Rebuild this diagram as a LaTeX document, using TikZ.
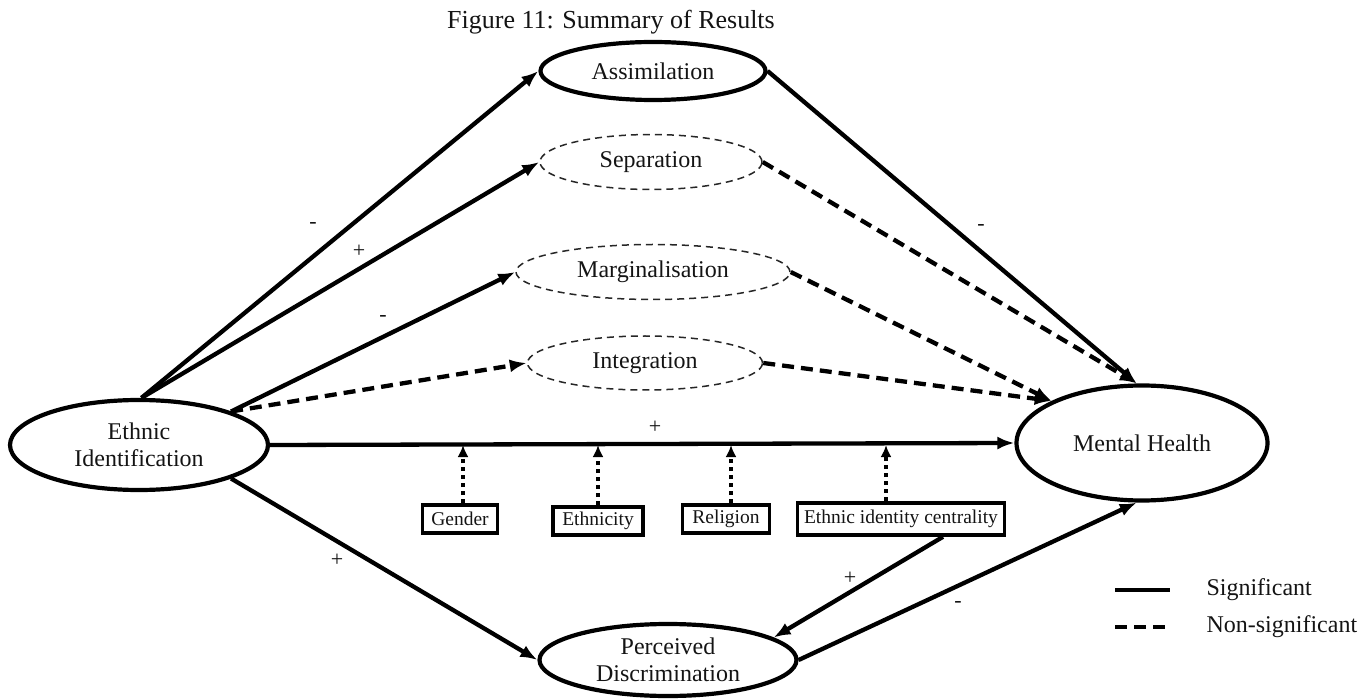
\documentclass[tikz,border=0pt]{standalone}
\usepackage{fontspec}
\setmainfont{Liberation Serif}
\usetikzlibrary{arrows.meta,shapes.geometric}

\begin{document}
\begin{tikzpicture}[x=1pt,y=-1pt,
  every node/.style={font=\fontsize{24}{27}\selectfont, text=black!92},
  construct/.style={ellipse, draw=black, line width=4.2pt, inner sep=0pt, align=center},
  strategy/.style={ellipse, draw=black!85, line width=1.5pt, dash pattern=on 7pt off 5pt, inner sep=0pt},
  moderator/.style={draw=black, line width=3.6pt, inner sep=3pt, minimum height=28pt,
    font=\fontsize{19.5}{22}\selectfont},
  sig/.style={line width=4.3pt, -{Latex[length=17pt,width=13pt]}},
  nonsig/.style={line width=4.3pt, dash pattern=on 12pt off 7pt, -{Latex[length=17pt,width=13pt]}},
  modarrow/.style={line width=4pt, dash pattern=on 4pt off 4pt, -{Latex[length=12pt,width=11pt]}},
  sign/.style={font=\fontsize{22}{24}\selectfont, inner sep=0pt},
]
\useasboundingbox (0,0) rectangle (1368,700);

% caption
\node (title) at (611,22) {\fontsize{26}{28}\selectfont Figure 11: Summary of Results};

% constructs
\node[construct, minimum width=258pt, minimum height=90pt] (ei) at (139,445) {Ethnic\\Identification};
\node[construct, minimum width=251pt, minimum height=115pt] (mh) at (1142,443) {Mental Health};
\node[construct, minimum width=257pt, minimum height=72pt] (pd) at (668,660) {Perceived\\Discrimination};
\node[construct, minimum width=225pt, minimum height=58pt] (ass) at (653,71) {Assimilation};

% acculturation strategies (non-significant)
\node[strategy, minimum width=222pt, minimum height=55pt] (sep) at (651,162) {Separation};
\node[strategy, minimum width=274pt, minimum height=55pt] (mar) at (653,272) {Marginalisation};
\node[strategy, minimum width=235pt, minimum height=54pt] (int) at (645,363) {Integration};

% moderators
\node[moderator, minimum width=75pt] (gen) at (460,519) {Gender};
\node[moderator, minimum width=90pt] (eth) at (598,521) {Ethnicity};
\node[moderator, minimum width=87pt] (rel) at (726,519) {Religion};
\node[moderator, minimum width=207pt, minimum height=32pt] (eic) at (901,519) {Ethnic identity centrality};

% paths from ethnic identification
\draw[sig] (ei.87) -- (ass.west);
\draw[sig] (ei.87) -- (sep.west);
\draw[sig] (ei.20) -- (mar.west);
\draw[nonsig] (ei.20) -- (int.west);
\draw[sig] (ei.east) -- (mh.west);
\draw[sig] (ei.-20) -- (pd.west);

% paths into mental health
\draw[sig] (ass.east) -- (mh.95);
\draw[nonsig] (sep.east) -- (mh.95);
\draw[nonsig] (mar.east) -- (mh.155);
\draw[nonsig] (int.east) -- (mh.155);
\draw[sig] (pd.east) -- (mh.-95);
\draw[sig] ([xshift=42pt]eic.south) -- (pd.12);

% moderation of the direct path
\draw[modarrow] ([xshift=3pt]gen.north) -- ([xshift=3pt]gen.north |- ei.east);
\draw[modarrow] (eth.north) -- (eth.north |- ei.east);
\draw[modarrow] ([xshift=5pt]rel.north) -- ([xshift=5pt]rel.north |- ei.east);
\draw[modarrow] ([xshift=-15pt]eic.north) -- ([xshift=-15pt]eic.north |- ei.east);

% signs of the effects
\node[sign] (s1) at (313,225) {-};
\node[sign] (s2) at (359,251) {+};
\node[sign] (s3) at (383,318) {-};
\node[sign] (s4) at (655,427) {+};
\node[sign] (s5) at (337,560) {+};
\node[sign] (s6) at (981,228) {-};
\node[sign] (s7) at (850,578) {+};
\node[sign] (s8) at (958,604) {-};

% legend
\coordinate (l1a) at (1115,590);
\coordinate (l1b) at (1170,590);
\coordinate (l2a) at (1115,627);
\coordinate (l2b) at (1170,627);
\draw[line width=4.5pt] (l1a) -- (l1b);
\draw[line width=4.5pt, dash pattern=on 12pt off 7pt] (l2a) -- (l2b);
\node[anchor=west] (lsig) at (1203,590) {Significant};
\node[anchor=west] (lnon) at (1203,627) {Non-significant};
\end{tikzpicture}
\end{document}
